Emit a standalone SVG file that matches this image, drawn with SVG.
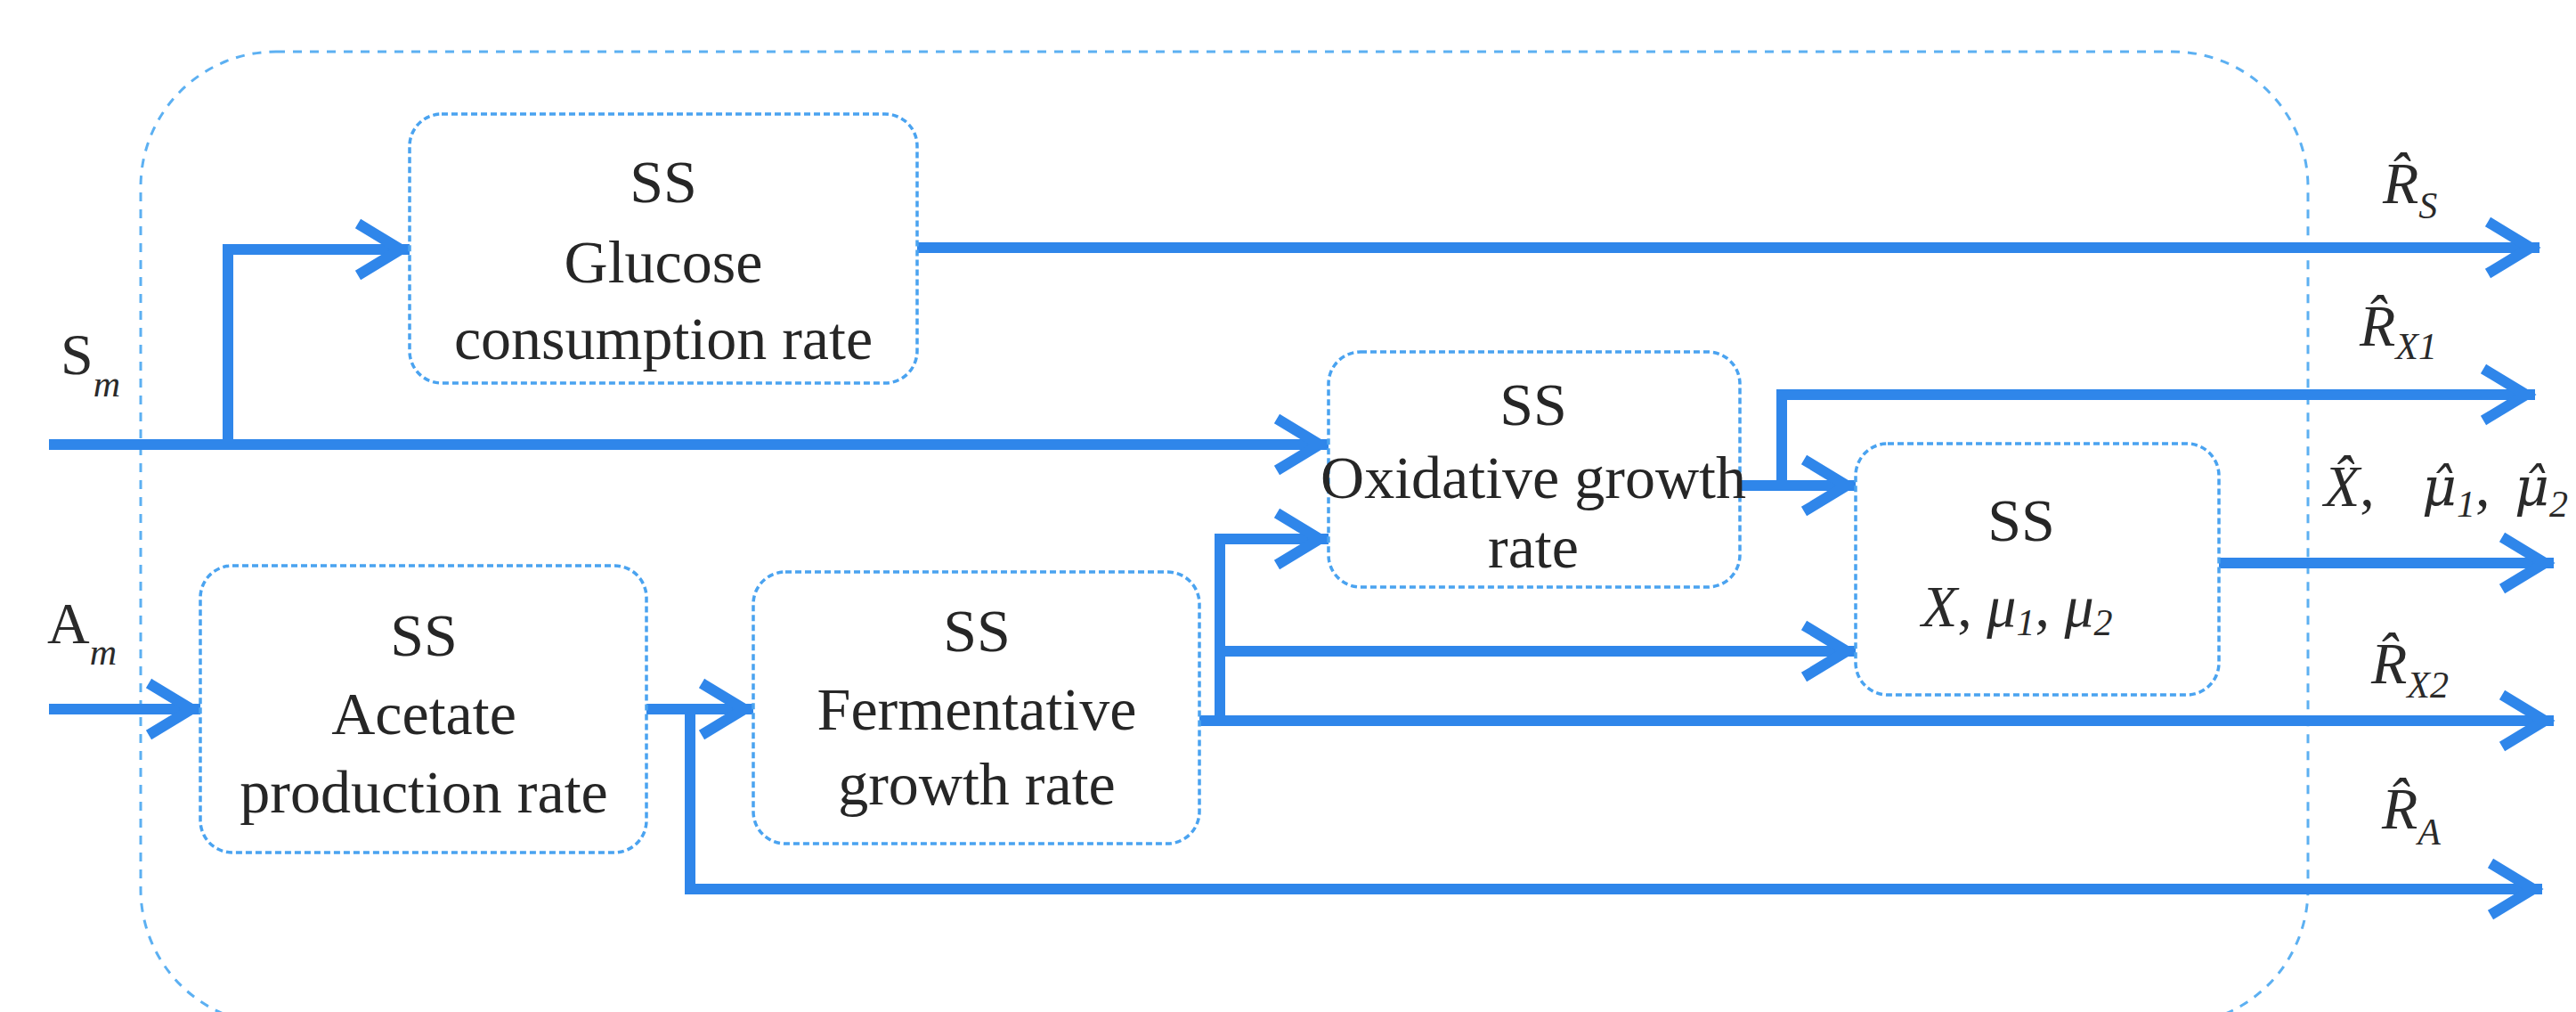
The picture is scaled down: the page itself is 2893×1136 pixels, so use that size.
<svg xmlns="http://www.w3.org/2000/svg" width="2893" height="1136" viewBox="0 0 2893 1136">
<style>
.bg{fill:#ffffff}
.frame{fill:none;stroke:#5cb0f2;stroke-width:3;stroke-dasharray:10 9}
.box{fill:#ffffff;stroke:#4aa3f0;stroke-width:3.5;stroke-dasharray:7 4}
.wire{fill:none;stroke:#2f86ea;stroke-width:12;stroke-linejoin:miter}
.t{font-family:"Liberation Serif","DejaVu Serif",serif;font-size:68px;fill:#262626;text-anchor:middle}
.lab{font-family:"Liberation Serif","DejaVu Serif",serif;font-size:66px;fill:#2a2a2a}
.it{font-style:italic}
.sub{font-size:42px;font-style:italic}
.mu{font-family:"DejaVu Serif",serif;font-size:60px;font-style:italic}
</style>
<defs>
<marker id="ah" markerUnits="userSpaceOnUse" markerWidth="80" markerHeight="90" viewBox="-70 -45 80 90" refX="0" refY="0" orient="auto">
<path d="M-58,-29 L-10,0 L-58,29" fill="none" stroke="#2f86ea" stroke-width="12" stroke-linejoin="miter"/>
</marker>
</defs>
<rect class="bg" x="0" y="0" width="2893" height="1136"/>
<rect id="frame" class="frame" x="158" y="58" width="2434" height="1092" rx="152" ry="152"/>

<g id="connectors">
<path class="wire" d="M55,499 H1492" marker-end="url(#ah)"/>
<path class="wire" d="M256,499 V280 H460" marker-end="url(#ah)"/>
<path class="wire" d="M1030,278 H2852" marker-end="url(#ah)"/>
<path class="wire" d="M55,796 H225" marker-end="url(#ah)"/>
<path class="wire" d="M726,796 H846" marker-end="url(#ah)"/>
<path class="wire" d="M775,796 V998 H2855" marker-end="url(#ah)"/>
<path class="wire" d="M1347,809 H2868" marker-end="url(#ah)"/>
<path class="wire" d="M1370,809 V605 H1492" marker-end="url(#ah)"/>
<path class="wire" d="M1370,731 H2084" marker-end="url(#ah)"/>
<path class="wire" d="M1954,545 H2084" marker-end="url(#ah)"/>
<path class="wire" d="M2001,545 V443 H2847" marker-end="url(#ah)"/>
<path class="wire" d="M2492,632 H2868" marker-end="url(#ah)"/>
</g>

<g id="glucose">
<rect class="box" x="460" y="128" width="570" height="302" rx="36"/>
<text class="t" x="745" y="227">SS</text>
<text class="t" x="745" y="317">Glucose</text>
<text class="t" x="745" y="403">consumption rate</text>
</g>

<g id="acetate">
<rect class="box" x="225" y="635" width="501" height="322" rx="36"/>
<text class="t" x="476" y="736">SS</text>
<text class="t" x="476" y="824">Acetate</text>
<text class="t" x="476" y="912">production rate</text>
</g>

<g id="fermentative">
<rect class="box" x="846" y="642" width="501" height="305" rx="36"/>
<text class="t" x="1097" y="731">SS</text>
<text class="t" x="1097" y="819">Fermentative</text>
<text class="t" x="1097" y="903">growth rate</text>
</g>

<g id="oxidative">
<rect class="box" x="1492" y="395" width="462" height="264" rx="36"/>
<text class="t" x="1722" y="477">SS</text>
<text class="t" x="1722" y="559">Oxidative growth</text>
<text class="t" x="1722" y="637">rate</text>
</g>

<g id="xmu">
<rect class="box" x="2084" y="498" width="408" height="282" rx="36"/>
<text class="t" x="2270" y="607">SS</text>
<text class="lab it" x="2158" y="703" font-size="62">X<tspan font-style="normal">,</tspan> μ<tspan class="sub" dy="10">1</tspan><tspan dy="-10" font-style="normal">,</tspan> μ<tspan class="sub" dy="10">2</tspan></text>
</g>

<g id="inputs">
<text class="lab" x="68" y="420">S<tspan class="sub" dy="25">m</tspan></text>
<text class="lab" x="53" y="722">A<tspan class="sub" dy="24">m</tspan></text>
</g>

<g id="outputs">
<text class="lab it" x="2676" y="228">R̂<tspan class="sub" dy="17">S</tspan></text>
<text class="lab it" x="2650" y="388">R̂<tspan class="sub" dy="15">X1</tspan></text>
<text class="lab it" x="2610" y="568">X̂<tspan font-style="normal">,</tspan><tspan class="mu" x="2720">μ̂</tspan><tspan class="sub" dy="12">1</tspan><tspan dy="-12" font-style="normal">,</tspan><tspan class="mu" x="2824">μ̂</tspan><tspan class="sub" dy="12">2</tspan></text>
<text class="lab it" x="2663" y="767">R̂<tspan class="sub" dy="16">X2</tspan></text>
<text class="lab it" x="2675" y="930">R̂<tspan class="sub" dy="18">A</tspan></text>
</g>
</svg>
